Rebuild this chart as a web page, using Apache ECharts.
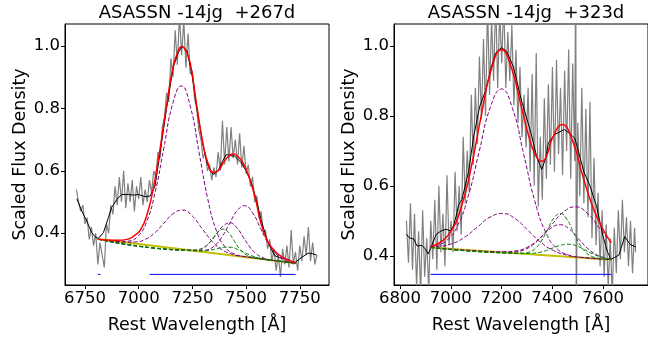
<!DOCTYPE html>
<html><head><meta charset="utf-8">
<script src="https://cdn.jsdelivr.net/npm/echarts@6/dist/echarts.min.js"></script>
<style>html,body{margin:0;padding:0;background:#fff}#c{width:648px;height:339px}</style>
</head><body><div id="c"></div><script>
// ---------- DATA ----------
const titles = ['ASASSN -14jg  +267d', 'ASASSN -14jg  +323d'];
const xTicksL = [6750, 7000, 7250, 7500, 7750];
const xTicksR = [6800, 7000, 7200, 7400, 7600];
const yTicks = [0.4, 0.6, 0.8, 1.0];

// Left panel (+267d)
const greyL = [[6710,.54],[6720,.50],[6730,.47],[6740,.49],[6750,.43],[6760,.45],[6770,.38],[6780,.42],[6790,.36],[6800,.40],[6810,.30],[6820,.37],[6830,.33],[6840,.29],[6850,.43],[6860,.40],[6870,.49],[6880,.46],[6890,.55],[6900,.49],[6910,.58],[6920,.50],[6930,.60],[6940,.48],[6950,.56],[6960,.50],[6970,.57],[6980,.47],[6990,.55],[7000,.51],[7010,.58],[7020,.49],[7030,.54],[7040,.50],[7050,.57],[7060,.53],[7070,.60],[7080,.58],[7090,.66],[7100,.64],[7110,.74],[7120,.77],[7130,.85],[7140,.82],[7150,.96],[7160,.90],[7170,1.05],[7180,.94],[7190,1.10],[7200,.97],[7210,1.08],[7220,.93],[7230,1.04],[7240,.91],[7250,.92],[7260,.83],[7270,.80],[7280,.73],[7290,.70],[7300,.64],[7310,.66],[7320,.60],[7330,.62],[7340,.57],[7350,.61],[7360,.58],[7370,.66],[7380,.60],[7390,.76],[7400,.62],[7410,.74],[7420,.63],[7430,.74],[7440,.64],[7450,.70],[7460,.62],[7470,.72],[7480,.61],[7490,.68],[7500,.59],[7510,.62],[7520,.55],[7530,.58],[7540,.50],[7550,.52],[7560,.45],[7570,.47],[7580,.40],[7590,.41],[7600,.35],[7610,.38],[7620,.31],[7630,.35],[7640,.28],[7650,.33],[7660,.26],[7670,.35],[7680,.30],[7690,.36],[7700,.29],[7710,.41],[7720,.30],[7730,.34],[7740,.28],[7750,.36],[7760,.31],[7770,.39],[7780,.33],[7790,.42],[7800,.31],[7810,.37],[7820,.30],[7830,.33]];
const smoothL = [[6712,.511],[6735,.471],[6758,.439],[6781,.402],[6797,.389],[6812,.383],[6836,.402],[6859,.45],[6874,.482],[6898,.508],[6921,.524],[6952,.524],[6975,.522],[6999,.524],[7029,.517],[7053,.519],[7076,.551],[7100,.66],[7130,.80],[7160,.93],[7185,.98],[7204,.999],[7225,.985],[7250,.90],[7275,.78],[7300,.68],[7320,.62],[7346,.588],[7370,.60],[7390,.63],[7408,.652],[7430,.648],[7447,.647],[7478,.625],[7500,.60],[7525,.562],[7550,.50],[7571,.439],[7602,.37],[7633,.328],[7655,.322],[7680,.319],[7705,.312],[7727,.306],[7758,.322],[7789,.336],[7805,.335],[7828,.33]];
const fitL = [[6810,.381],[6850,.378],[6900,.377],[6950,.381],[6980,.392],[7010,.412],[7040,.462],[7070,.55],[7100,.672],[7130,.81],[7160,.932],[7185,.985],[7200,.998],[7215,.99],[7240,.945],[7270,.81],[7300,.685],[7320,.63],[7346,.595],[7370,.60],[7400,.632],[7439,.654],[7470,.64],[7500,.605],[7540,.52],[7570,.43],[7600,.375],[7630,.345],[7665,.325],[7700,.313],[7731,.305]];
const baseL = [[6810,.381],[7731,.304]];
const purpleL = [
  [[6810,.381],[6912,.3737],[6953,.3748],[6994,.3886],[7035,.433],[7076,.5288],[7117,.6728],[7158,.8139],[7199,.872],[7240,.8071],[7281,.6591],[7322,.5082],[7363,.4056],[7404,.3543],[7445,.3337],[7486,.3257],[7731,.304]],
  [[6810,.381],[6941,.3714],[6985,.3719],[7029,.3797],[7073,.3999],[7117,.4317],[7161,.4629],[7205,.474],[7249,.4555],[7293,.417],[7337,.3778],[7381,.3503],[7425,.3351],[7469,.3273],[7731,.304]],
  [[6810,.381],[7278,.3437],[7314,.3461],[7350,.3581],[7386,.3862],[7422,.4294],[7458,.4717],[7494,.488],[7530,.4657],[7566,.4174],[7602,.3681],[7638,.334],[7674,.316],[7710,.3076],[7731,.304]],
  [[6810,.381],[7239,.3462],[7270,.347],[7301,.354],[7332,.371],[7363,.3975],[7394,.4235],[7425,.433],[7456,.4183],[7487,.3871],[7518,.3554],[7549,.3332],[7580,.3211],[7611,.3151],[7731,.304]]
];
const greenL = [
  [[6810,.381],[7251,.345],[7275,.3457],[7299,.351],[7323,.3644],[7347,.3852],[7371,.4055],[7395,.413],[7419,.4015],[7443,.3772],[7467,.3524],[7491,.335],[7515,.3257],[7539,.321],[7731,.304]],
  [[6810,.381],[7270,.3436],[7301,.3434],[7332,.3456],[7363,.3502],[7394,.3546],[7425,.355],[7456,.3494],[7487,.3398],[7518,.33],[7549,.3226],[7580,.3177],[7731,.304]]
];
const blueL = [[[6810,.268],[6822,.268]],[[7051,.268],[7731,.268]]];

// Right panel (+323d)
const greyR = [[6825,.50],[6833,.38],[6841,.55],[6849,.36],[6857,.52],[6865,.31],[6873,.47],[6881,.29],[6889,.53],[6897,.34],[6905,.45],[6913,.30],[6921,.50],[6929,.39],[6937,.56],[6945,.36],[6953,.60],[6961,.41],[6969,.52],[6977,.37],[6985,.63],[6993,.43],[7001,.50],[7009,.41],[7017,.64],[7025,.47],[7033,.60],[7041,.46],[7049,.74],[7057,.55],[7065,.70],[7073,.58],[7081,.86],[7089,.66],[7097,.88],[7105,.72],[7113,.97],[7121,.79],[7129,1.02],[7137,.80],[7145,1.12],[7153,.86],[7161,1.08],[7169,.90],[7177,1.14],[7185,.88],[7193,1.10],[7201,.95],[7209,1.13],[7217,.88],[7225,1.04],[7233,.90],[7241,1.06],[7249,.83],[7257,.99],[7265,.78],[7273,.94],[7281,.74],[7289,.86],[7297,.71],[7305,.88],[7313,.64],[7321,.92],[7329,.60],[7337,.98],[7345,.54],[7353,.74],[7361,.56],[7369,.85],[7377,.62],[7385,.89],[7393,.66],[7401,.94],[7409,.64],[7417,.96],[7425,.69],[7433,.88],[7441,.63],[7449,.93],[7457,.70],[7465,.99],[7473,.62],[7481,.95],[7489,.67],[7493,1.3],[7495,0.2],[7501,.78],[7509,.57],[7517,.88],[7525,.55],[7533,.82],[7541,.51],[7549,.84],[7557,.45],[7565,.68],[7573,.43],[7581,.58],[7589,.37],[7597,.53],[7605,.34],[7613,.49],[7621,.31],[7629,.45],[7637,.29],[7645,.48],[7653,.35],[7661,.53],[7669,.39],[7677,.56],[7685,.41],[7693,.51],[7701,.37],[7709,.50],[7717,.35],[7725,.48],[7729,.41]];
const smoothR = [[6825,.462],[6835,.452],[6854,.448],[6867,.428],[6886,.43],[6899,.42],[6911,.405],[6924,.428],[6943,.462],[6962,.471],[6981,.476],[7000,.471],[7013,.49],[7032,.547],[7044,.561],[7070,.64],[7090,.74],[7114,.827],[7139,.875],[7160,.94],[7177,.98],[7200,.995],[7220,.985],[7247,.94],[7278,.846],[7316,.752],[7340,.68],[7359,.647],[7375,.68],[7385,.723],[7410,.747],[7448,.761],[7473,.747],[7490,.735],[7510,.68],[7525,.64],[7549,.60],[7575,.542],[7600,.457],[7619,.41],[7632,.39],[7645,.395],[7663,.402],[7686,.455],[7707,.433],[7730,.425]];
const fitR = [[6920,.426],[6960,.439],[7000,.469],[7040,.536],[7080,.651],[7120,.80],[7160,.934],[7200,.99],[7240,.936],[7280,.821],[7320,.712],[7345,.675],[7360,.67],[7380,.69],[7400,.735],[7440,.775],[7480,.73],[7520,.63],[7560,.54],[7600,.476],[7633,.438]];
const baseR = [[6920,.424],[7633,.389]];
const purpleR = [
  [[6920,.427],[6936,.4284],[6980,.4416],[7024,.4821],[7068,.5683],[7112,.6978],[7156,.8245],[7200,.877],[7244,.8202],[7288,.6891],[7332,.5554],[7376,.4648],[7420,.4199],[7464,.4025],[7508,.396],[7633,.389]],
  [[6920,.4259],[6955,.4272],[7005,.4348],[7055,.4534],[7105,.4822],[7155,.5105],[7205,.521],[7255,.5056],[7305,.4724],[7355,.4386],[7405,.4152],[7455,.4026],[7505,.3965],[7633,.389]],
  [[6920,.424],[7160,.4123],[7207,.4115],[7254,.4139],[7302,.4247],[7350,.4497],[7397,.4879],[7445,.5253],[7492,.54],[7540,.5207],[7587,.4786],[7633,.4368]],
  [[6920,.424],[7222,.4102],[7257,.4115],[7292,.4179],[7327,.4332],[7362,.4569],[7397,.48],[7432,.4889],[7467,.4765],[7502,.45],[7537,.4229],[7572,.4042],[7607,.3943],[7633,.3906]]
];
const greenR = [
  [[6920,.424],[7282,.4076],[7307,.4104],[7332,.4203],[7357,.4421],[7382,.4753],[7407,.5078],[7432,.5209],[7457,.5053],[7482,.4704],[7507,.4348],[7532,.4105],[7557,.3981],[7582,.3929],[7633,.389]],
  [[6920,.424],[7304,.4067],[7337,.4084],[7370,.4136],[7402,.4221],[7435,.4305],[7467,.4331],[7500,.4273],[7532,.4158],[7565,.4041],[7597,.3957],[7630,.3908]]
];
const blueR = [[[6920,.347],[7633,.347]]];

// ---------- CHART ----------
const FONT = 'DejaVu Sans';
const chart = echarts.init(document.getElementById('c'), null, {renderer: 'canvas'});

function xAxis(gi, min, max, ticks) {
  return {
    type: 'value', gridIndex: gi, min: min, max: max,
    axisLine: {show: true, onZero: false, lineStyle: {color: '#000', width: 1}},
    axisTick: {show: true, length: 4, lineStyle: {color: '#000', width: 1}, customValues: ticks},
    axisLabel: {color: '#000', fontSize: 16.5, fontFamily: FONT, margin: 5, customValues: ticks, formatter: v => String(v)},
    splitLine: {show: false},
    name: 'Rest Wavelength [Å]', nameLocation: 'middle', nameGap: 31,
    nameTextStyle: {color: '#000', fontSize: 17.5, fontFamily: FONT}
  };
}
function yAxis(gi, min, max) {
  return {
    type: 'value', gridIndex: gi, min: min, max: max,
    axisLine: {show: true, onZero: false, lineStyle: {color: '#000', width: 1}},
    axisTick: {show: true, length: 4, lineStyle: {color: '#000', width: 1}, customValues: yTicks},
    axisLabel: {color: '#000', fontSize: 16.5, fontFamily: FONT, margin: 5, customValues: yTicks, formatter: v => v.toFixed(1)},
    splitLine: {show: false},
    name: 'Scaled Flux Density', nameLocation: 'middle', nameGap: 35, nameRotate: 90,
    nameTextStyle: {color: '#000', fontSize: 17.5, fontFamily: FONT}
  };
}
function line(data, gi, color, width, dash, z, smooth) {
  return {
    type: 'line', data: data, xAxisIndex: gi, yAxisIndex: gi, symbol: 'none',
    smooth: !!smooth, clip: true, z: z, silent: true,
    lineStyle: {color: color, width: width, type: dash || 'solid'}
  };
}

const series = [];
[[greyL, smoothL, fitL, baseL, purpleL, greenL, blueL], [greyR, smoothR, fitR, baseR, purpleR, greenR, blueR]].forEach((p, gi) => {
  series.push(line(p[0], gi, '#808080', 1.2, null, 1, false));
  series.push(line(p[1], gi, '#000000', 1, null, 2, false));
  series.push(line(p[3], gi, '#bfbf00', 2, null, 3, false));
  p[4].forEach(d => series.push(line(d, gi, '#800080', 1, [4, 2], 4, true)));
  p[5].forEach(d => series.push(line(d, gi, '#008000', 1, [4, 2], 4, true)));
  series.push(line(p[2], gi, '#ff0000', 1.5, null, 5, true));
  p[6].forEach(d => series.push(line(d, gi, '#0000ff', 1, null, 6, false)));
});

chart.setOption({
  animation: false,
  backgroundColor: '#fff',
  grid: [
    {left: 65, top: 24, width: 264, height: 262, show: true, borderColor: '#000', borderWidth: 1, backgroundColor: 'transparent'},
    {left: 394, top: 24, width: 264, height: 262, show: true, borderColor: '#000', borderWidth: 1, backgroundColor: 'transparent'}
  ],
  xAxis: [xAxis(0, 6657, 7886, xTicksL), xAxis(1, 6776, 7778, xTicksR)],
  yAxis: [yAxis(0, 0.234, 1.0702), yAxis(1, 0.3166, 1.0626)],
  graphic: [
    {type: 'text', x: 197, y: 13, style: {text: titles[0], fill: '#000', font: '18px "DejaVu Sans"', textAlign: 'center', textVerticalAlign: 'middle'}},
    {type: 'text', x: 526, y: 13, style: {text: titles[1], fill: '#000', font: '18px "DejaVu Sans"', textAlign: 'center', textVerticalAlign: 'middle'}}
  ],
  series: series
});
</script></body></html>
